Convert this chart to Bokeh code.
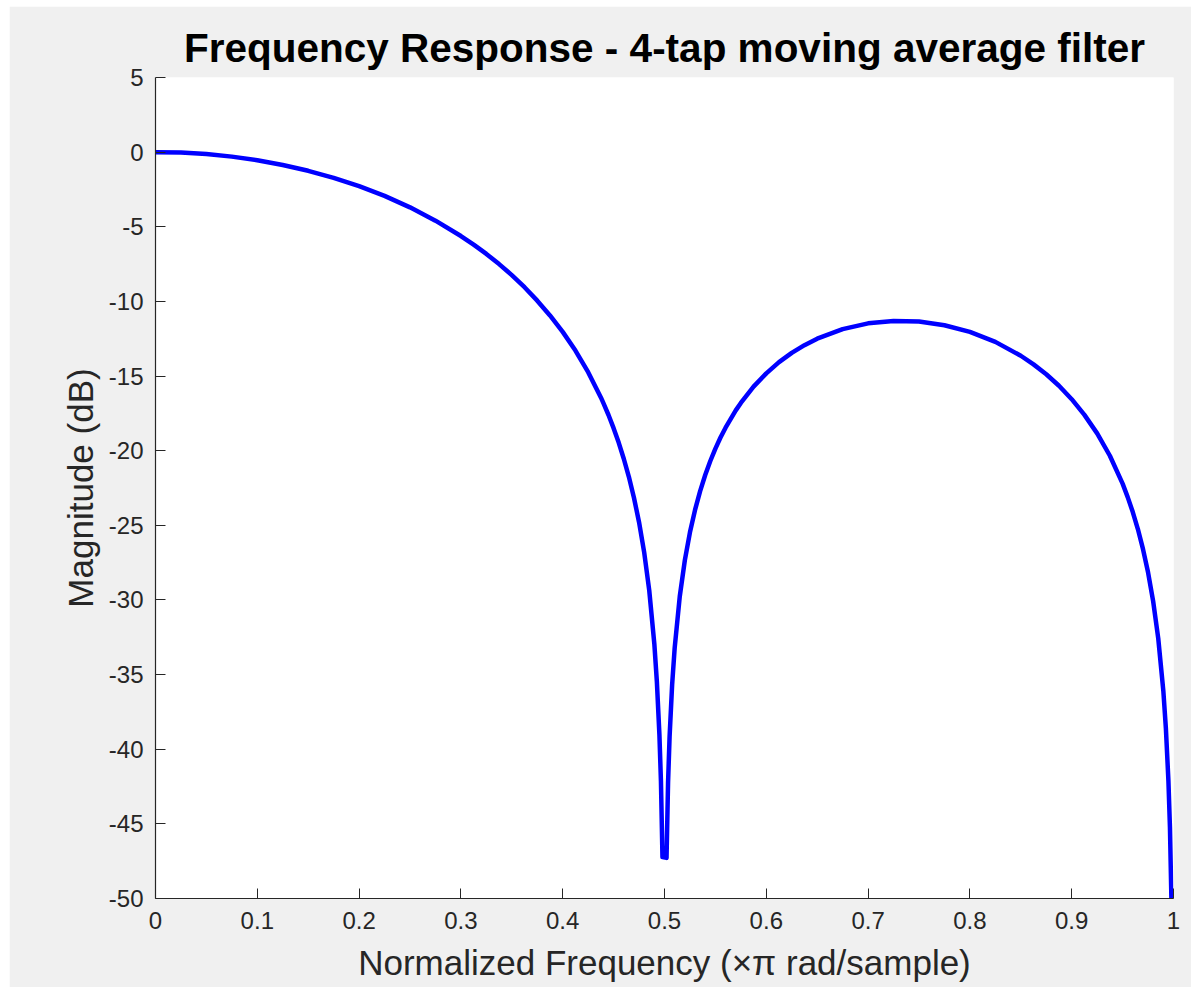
from bokeh.plotting import figure
from bokeh.models import Range1d, FixedTicker, ColumnDataSource
from bokeh.embed import file_html
from bokeh.resources import INLINE

# Data (normalized frequency, magnitude in dB)
freq = [0, 0.025, 0.05, 0.075, 0.1, 0.125, 0.15, 0.175, 0.2, 0.225,
        0.25, 0.275, 0.3, 0.3125, 0.325, 0.3375, 0.35, 0.3625, 0.375, 0.3875,
        0.4, 0.4125, 0.425, 0.4375, 0.44, 0.445, 0.45, 0.455, 0.46, 0.465,
        0.47, 0.475, 0.48, 0.485, 0.49, 0.4925, 0.495, 0.4965, 0.498, 0.502,
        0.5035, 0.505, 0.5075, 0.51, 0.515, 0.52, 0.525, 0.53, 0.535, 0.54,
        0.545, 0.55, 0.555, 0.56, 0.57, 0.575, 0.5875, 0.6, 0.6125, 0.625,
        0.6375, 0.65, 0.675, 0.7, 0.725, 0.75, 0.775, 0.8, 0.825, 0.85,
        0.8625, 0.875, 0.8875, 0.9, 0.9125, 0.925, 0.9375, 0.95, 0.955, 0.96,
        0.965, 0.97, 0.975, 0.98, 0.985, 0.99, 0.9925, 0.995, 0.9965, 0.998]
mag_db = [0, -0.03, -0.13, -0.30, -0.54, -0.86, -1.25, -1.72, -2.28, -2.93,
          -3.70, -4.59, -5.62, -6.20, -6.82, -7.50, -8.24, -9.05, -9.95, -10.94,
          -12.04, -13.29, -14.74, -16.43, -16.81, -17.61, -18.49, -19.46, -20.54, -21.75,
          -23.15, -24.79, -26.79, -29.35, -32.93, -35.47, -39.02, -42.14, -47.23, -47.28,
          -42.23, -39.16, -35.67, -33.21, -29.76, -27.33, -25.47, -23.97, -22.71, -21.63,
          -20.69, -19.86, -19.12, -18.46, -17.30, -16.80, -15.71, -14.82, -14.07, -13.45,
          -12.93, -12.50, -11.86, -11.47, -11.31, -11.35, -11.60, -12.04, -12.71, -13.64,
          -14.22, -14.88, -15.65, -16.55, -17.60, -18.84, -20.34, -22.21, -23.11, -24.11,
          -25.25, -26.58, -28.15, -30.08, -32.57, -36.08, -38.58, -42.10, -45.20, -50.26]

x_ticks = [0, 0.1, 0.2, 0.3, 0.4, 0.5, 0.6, 0.7, 0.8, 0.9, 1]
x_tick_labels = ["0", "0.1", "0.2", "0.3", "0.4", "0.5", "0.6", "0.7", "0.8", "0.9", "1"]
y_ticks = [-50, -45, -40, -35, -30, -25, -20, -15, -10, -5, 0, 5]
y_tick_labels = ["-50", "-45", "-40", "-35", "-30", "-25", "-20", "-15", "-10", "-5", "0", "5"]

title_text = "Frequency Response - 4-tap moving average filter"
x_label = "Normalized Frequency (\u00d7\u03c0 rad/sample)"
y_label = "Magnitude (dB)"

FONT = "Liberation Sans"
AX = "#262626"

p = figure(width=1182, height=981, x_range=Range1d(0, 1), y_range=Range1d(-50, 5),
           output_backend="svg", toolbar_location=None,
           min_border_left=146, min_border_right=18, min_border_top=71, min_border_bottom=89,
           title=title_text)
p.margin = (6, 0, 0, 9)

src = ColumnDataSource(data=dict(f=freq, m=mag_db))
p.line("f", "m", source=src, line_color="#0000ff", line_width=4.5, line_join="round")

p.background_fill_color = "white"
p.border_fill_color = "#f0f0f0"
p.outline_line_color = None
p.grid.visible = False

p.title.text_font = FONT
p.title.text_font_size = "40.5px"
p.title.text_font_style = "bold"
p.title.text_color = "black"
p.title.align = "center"
p.title.standoff = 13

for ax in (p.xaxis[0], p.yaxis[0]):
    ax.axis_line_color = AX
    ax.axis_line_width = 1.2
    ax.major_tick_line_color = AX
    ax.major_tick_in = 10
    ax.major_tick_out = 0
    ax.minor_tick_line_color = None
    ax.major_label_text_font = FONT
    ax.major_label_text_font_size = "24px"
    ax.major_label_text_color = AX
    ax.axis_label_text_font = FONT
    ax.axis_label_text_font_size = "35px"
    ax.axis_label_text_font_style = "normal"
    ax.axis_label_text_color = AX

p.xaxis[0].ticker = FixedTicker(ticks=x_ticks)
p.xaxis[0].major_label_overrides = {t: l for t, l in zip(x_ticks, x_tick_labels)}
p.yaxis[0].ticker = FixedTicker(ticks=y_ticks)
p.yaxis[0].major_label_overrides = {t: l for t, l in zip(y_ticks, y_tick_labels)}
p.xaxis[0].axis_label = x_label
p.yaxis[0].axis_label = y_label
p.xaxis[0].major_label_standoff = 13
p.yaxis[0].major_label_standoff = 12
p.xaxis[0].axis_label_standoff = 11
p.yaxis[0].axis_label_standoff = 6

open("out.html", "w").write(file_html(p, INLINE))
